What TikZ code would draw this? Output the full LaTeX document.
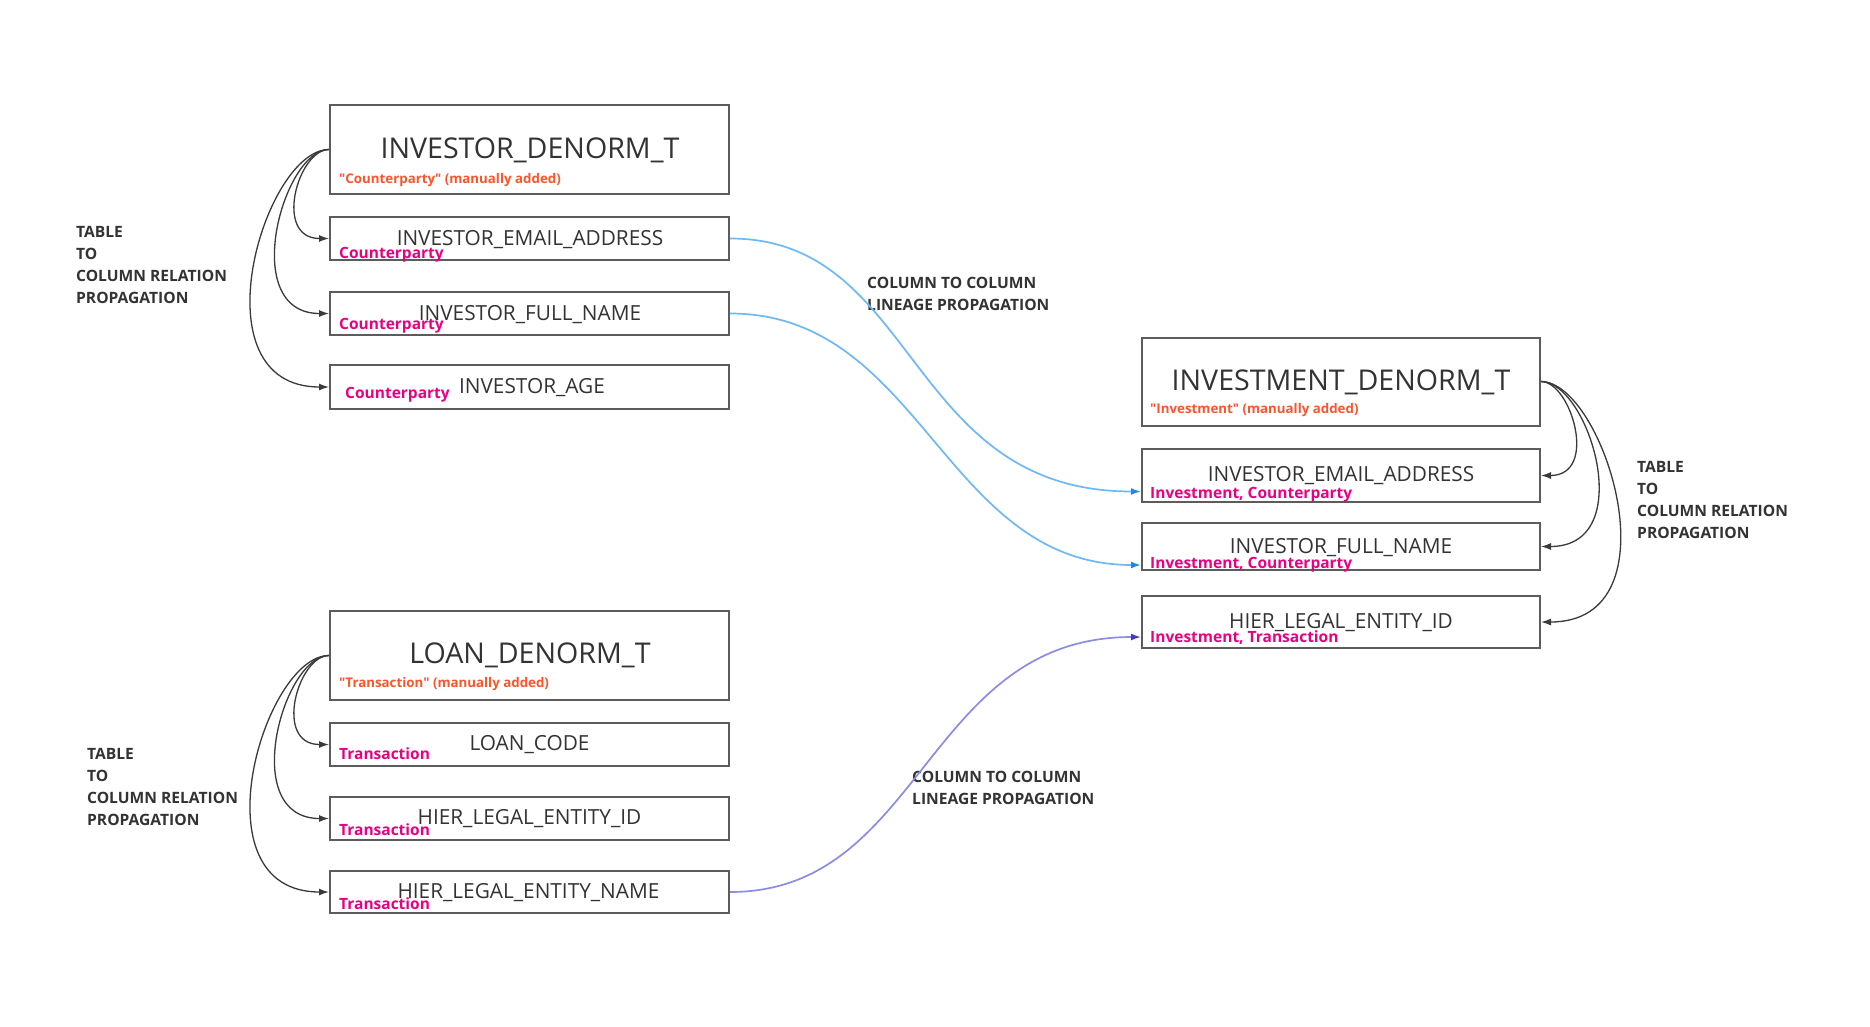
\documentclass[tikz,border=0pt]{standalone}
\usepackage{fontspec}
\setmainfont{Open Sans}
\usetikzlibrary{arrows.meta}
\definecolor{txt}{HTML}{333333}
\definecolor{boxc}{HTML}{5C5C5C}
\definecolor{tagc}{RGB}{233,0,130}
\definecolor{subc}{RGB}{250,85,45}
\definecolor{arrc}{HTML}{3A3A3A}
\definecolor{bluel}{RGB}{110,185,245}
\definecolor{bluet}{RGB}{30,136,229}
\definecolor{purl}{RGB}{140,140,228}
\definecolor{purt}{RGB}{60,60,200}
\tikzset{
  tbox/.style={draw=boxc, line width=2pt, inner sep=0pt, minimum width=399pt},
  ttl/.style={font=\fontsize{28.6}{34}\selectfont, text=txt, inner sep=0pt, anchor=base},
  cname/.style={font=\fontsize{20.8}{24}\selectfont, text=txt, inner sep=0pt, anchor=base},
  tagl/.style={font=\bfseries\fontsize{15.5}{18}\selectfont, text=tagc, inner sep=0pt, anchor=base west},
  subl/.style={font=\bfseries\fontsize{13.3}{15}\selectfont, text=subc, inner sep=0pt, anchor=base west},
  side/.style={font=\bfseries\fontsize{15.6}{22}\selectfont, text=txt, inner sep=0pt, align=left, anchor=north west},
  rel/.style={draw=arrc, line width=1.3pt, -{Latex[length=10pt,width=7pt]}},
  linb/.style={draw=bluel, line width=1.7pt, -{Latex[length=10pt,width=7pt,color=bluet]}},
  linp/.style={draw=purl, line width=1.7pt, -{Latex[length=10pt,width=7pt,color=purt]}}
}
\begin{document}
\begin{tikzpicture}[x=1pt,y=-1pt]
\useasboundingbox[fill=white] (0,0) rectangle (1870,1026);

% ---- INVESTOR table ----
\node[tbox, minimum height=89pt] (itab) at (529.5,149.5) {};
\node[tbox, minimum height=43pt] (iemail) at (529.5,238.5) {};
\node[tbox, minimum height=43pt] (ifull) at (529.5,313.5) {};
\node[tbox, minimum height=44pt] (iage) at (529.5,387) {};
\node[ttl] (itabt) at (530,158) {INVESTOR\_DENORM\_T};
\node[subl] (itabs) at (339,183) {\textquotedbl Counterparty\textquotedbl{} (manually added)};
\node[cname] (iemailt) at (530,245) {INVESTOR\_EMAIL\_ADDRESS};
\node[tagl] (iemailg) at (339,258) {Counterparty};
\node[cname] (ifullt) at (530,320) {INVESTOR\_FULL\_NAME};
\node[tagl] (ifullg) at (339,329) {Counterparty};
\node[cname] (iaget) at (532,393) {INVESTOR\_AGE};
\node[tagl] (iageg) at (345,398) {Counterparty};

% ---- LOAN table ----
\node[tbox, minimum height=89pt] (ltab) at (529.5,655.5) {};
\node[tbox, minimum height=43pt] (lcode) at (529.5,744.5) {};
\node[tbox, minimum height=43pt] (lid) at (529.5,818.5) {};
\node[tbox, minimum height=42pt] (lname) at (529.5,892) {};
\node[ttl] (ltabt) at (530,663) {LOAN\_DENORM\_T};
\node[subl] (ltabs) at (339,687) {\textquotedbl Transaction\textquotedbl{} (manually added)};
\node[cname] (lcodet) at (529.5,750) {LOAN\_CODE};
\node[tagl] (lcodeg) at (339,759) {Transaction};
\node[cname] (lidt) at (529.5,824) {HIER\_LEGAL\_ENTITY\_ID};
\node[tagl] (lidg) at (339,835) {Transaction};
\node[cname] (lnamet) at (528.5,898) {HIER\_LEGAL\_ENTITY\_NAME};
\node[tagl] (lnameg) at (339,909) {Transaction};

% ---- INVESTMENT table ----
\node[tbox, minimum width=398pt, minimum height=88pt] (vtab) at (1341,381.5) {};
\node[tbox, minimum width=398pt, minimum height=53pt] (vemail) at (1341,475.5) {};
\node[tbox, minimum width=398pt, minimum height=47pt] (vfull) at (1341,546.5) {};
\node[tbox, minimum width=398pt, minimum height=52pt] (vid) at (1341,622) {};
\node[ttl] (vtabt) at (1341,390) {INVESTMENT\_DENORM\_T};
\node[subl] (vtabs) at (1150,413) {\textquotedbl Investment\textquotedbl{} (manually added)};
\node[cname] (vemailt) at (1341,481) {INVESTOR\_EMAIL\_ADDRESS};
\node[tagl] (vemailg) at (1150,498) {Investment, Counterparty};
\node[cname] (vfullt) at (1341,553) {INVESTOR\_FULL\_NAME};
\node[tagl] (vfullg) at (1150,568) {Investment, Counterparty};
\node[cname] (vidt) at (1341,628) {HIER\_LEGAL\_ENTITY\_ID};
\node[tagl] (vidg) at (1150,642) {Investment, Transaction};

% ---- side labels ----
\node[side] (lbl1) at (76,226) {TABLE\\TO\\COLUMN RELATION\\PROPAGATION};
\node[side] (lbl2) at (87,748) {TABLE\\TO\\COLUMN RELATION\\PROPAGATION};
\node[side] (lbl3) at (1637,461) {TABLE\\TO\\COLUMN RELATION\\PROPAGATION};
\node[side] (lbl4) at (867,277) {COLUMN TO COLUMN\\LINEAGE PROPAGATION};
\node[side] (lbl5) at (912,771) {COLUMN TO COLUMN\\LINEAGE PROPAGATION};

% ---- table to column arrows ----
\draw[rel] (itab.west) .. controls +(-31,0) and +(-56,0) .. (iemail.west);
\draw[rel] (itab.west) .. controls +(-46,0) and +(-91,0) .. (ifull.west);
\draw[rel] (itab.west) .. controls +(-65,0) and +(-135,0) .. (iage.west);
\draw[rel] (ltab.west) .. controls +(-31,0) and +(-56,0) .. (lcode.west);
\draw[rel] (ltab.west) .. controls +(-46,0) and +(-91,0) .. (lid.west);
\draw[rel] (ltab.west) .. controls +(-65,0) and +(-135,0) .. (lname.west);
\draw[rel] (vtab.east) .. controls +(30,0) and +(58,0) .. (vemail.east);
\draw[rel] (vtab.east) .. controls +(48,0) and +(98,0) .. (vfull.east);
\draw[rel] (vtab.east) .. controls +(63,0) and +(138,0) .. (vid.east);

% ---- lineage arrows ----
\draw[linb] (iemail.east) .. controls +(189,0) and +(-236,0) .. ([yshift=-16pt]vemail.west);
\draw[linb] (ifull.east) .. controls +(192,0) and +(-197,0) .. ([yshift=-18.5pt]vfull.west);
\draw[linp] (lname.east) .. controls +(193,0) and +(-216,0) .. ([yshift=-15pt]vid.west);
\end{tikzpicture}
\end{document}
